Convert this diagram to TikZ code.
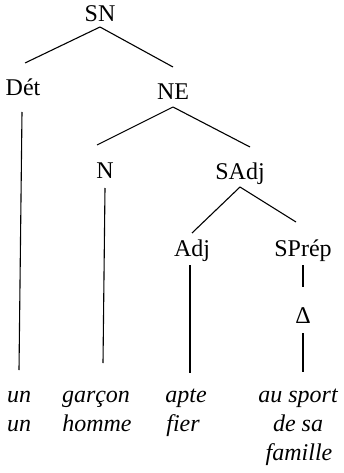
\documentclass[tikz,border=0pt]{standalone}
\usepackage{fontspec}
\setmainfont{Liberation Serif}
\begin{document}
\begin{tikzpicture}[x=1pt,y=-1pt,
  lab/.style={anchor=base,inner sep=0pt,font=\fontsize{24}{28}\selectfont},
  leaf/.style={anchor=base,inner sep=0pt,font=\fontsize{24}{28}\selectfont\itshape},
  br/.style={line width=1.1pt}]
\useasboundingbox (0,0) rectangle (344,473);
% labels
\node[lab] (SN) at (100,22) {SN};
\node[lab] (Det) at (23,96) {Dét};
\node[lab] (NE) at (173,100) {NE};
\node[lab] (N) at (105,178) {N};
\node[lab] (SAdj) at (240,179) {SAdj};
\node[lab] (Adj) at (192,256) {Adj};
\node[lab] (SPrep) at (303,256) {SPrép};
\node[lab] (Delta) at (303,323) {Δ};
% leaves
\node[leaf] (un1) at (19,402) {un};
\node[leaf] (un2) at (19,431) {un};
\node[leaf] (garcon) at (96,402) {garçon};
\node[leaf] (homme) at (97,431) {homme};
\node[leaf] (apte) at (186,402) {apte};
\node[leaf] (fier) at (183,431) {fier};
\node[leaf] (sport) at (298,402) {au sport};
\node[leaf] (desa) at (298,431) {de sa};
\node[leaf] (famille) at (299,460) {famille};
% branches
\draw[br] ([yshift=-5pt]SN.base) -- ([xshift=2pt,yshift=33pt]Det.base);
\draw[br] ([yshift=-5pt]SN.base) -- ([yshift=33pt]NE.base);
\draw[br] ([yshift=-7pt]NE.base) -- ([xshift=-8pt,yshift=33pt]N.base);
\draw[br] ([yshift=-7pt]NE.base) -- ([xshift=10pt,yshift=32pt]SAdj.base);
\draw[br] ([yshift=-8pt]SAdj.base) -- ([yshift=23pt]Adj.base);
\draw[br] ([yshift=-8pt]SAdj.base) -- ([xshift=-7pt,yshift=34pt]SPrep.base);
\draw[br] ([xshift=-1pt,yshift=-16pt]Det.base) -- ([xshift=-4pt,yshift=32pt]un1.base -| Det.base);
\draw[br] ([yshift=-10pt]N.base) -- ([xshift=-2pt,yshift=39pt]garcon.base -| N.base);
\draw[br] ([xshift=-2pt,yshift=-9pt]Adj.base) -- ([xshift=-2pt,yshift=29pt]apte.base -| Adj.base);
\draw[br] ([yshift=-9pt]SPrep.base) -- ([yshift=36pt]Delta.base);
\draw[br] ([yshift=-10pt]Delta.base) -- ([yshift=30pt]sport.base -| Delta.base);
\end{tikzpicture}
\end{document}
